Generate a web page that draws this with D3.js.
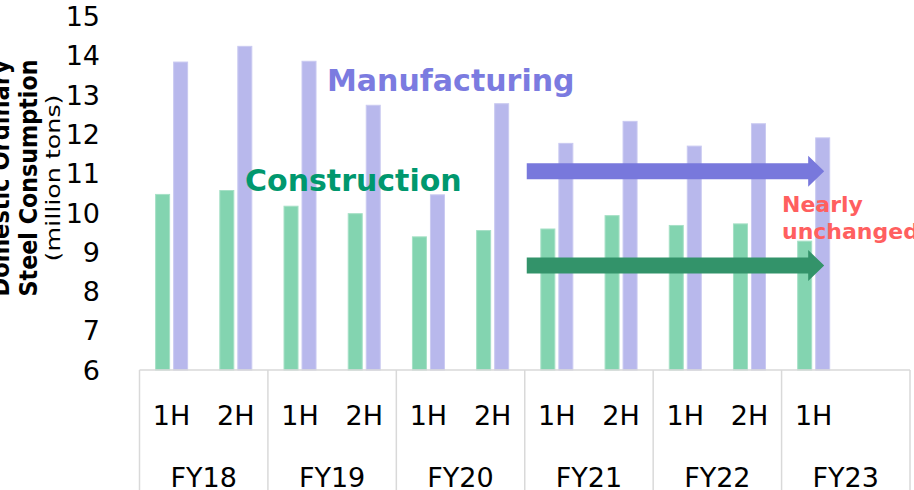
<!DOCTYPE html>
<html>
<head>
<meta charset="utf-8">
<script src="https://cdn.jsdelivr.net/npm/d3@7"></script>
<style>
  body { margin: 0; background: #fff; }
  svg { display: block; font-family: "DejaVu Sans", Verdana, sans-serif; }
</style>
</head>
<body>
<script>
// Data
const fiscalYears = ["FY18", "FY19", "FY20", "FY21", "FY22", "FY23"];
const halves = ["1H", "2H", "1H", "2H", "1H", "2H", "1H", "2H", "1H", "2H", "1H"];
const construction = [10.47, 10.57, 10.17, 9.98, 9.39, 9.55, 9.59, 9.93, 9.68, 9.72, 9.28];
const manufacturing = [13.84, 14.24, 13.86, 12.74, 10.46, 12.78, 11.77, 12.33, 11.70, 12.27, 11.91];
const yTicks = [6, 7, 8, 9, 10, 11, 12, 13, 14, 15];
// arrow levels (manufacturing, construction) and span in half-year slots
const arrowLevels = [11.06, 8.66];
const arrowFrom = 6, arrowTo = 10;

// Dimensions
const width = 914, height = 490;
const plotLeft = 139.5, plotRight = 910, plotTop = 16.5, plotBottom = 370;

const svg = d3.select("body").append("svg")
  .attr("width", width)
  .attr("height", height);

// Scales
const slots = d3.range(fiscalYears.length * 2);
const x = d3.scaleBand().domain(slots).range([plotLeft, plotRight]).padding(0);
const inner = d3.scaleBand()
  .domain(["Construction", "Manufacturing"])
  .range([0, x.bandwidth()])
  .paddingInner(0.222)
  .paddingOuter(0.894);
const y = d3.scaleLinear().domain([6, 15]).range([plotBottom, plotTop]);

// Y tick labels
svg.append("g")
  .selectAll("text")
  .data(yTicks).enter()
  .append("text")
  .attr("x", 100)
  .attr("y", d => y(d))
  .attr("dy", "0.36em")
  .attr("text-anchor", "end")
  .attr("font-size", 27)
  .attr("fill", "#000")
  .text(d => d);

// Y axis title (rotated)
const title = svg.append("g");
function titleLine(txt, bx, size, weight, len) {
  title.append("text")
    .attr("transform", "translate(" + bx + "," + 178 + ") rotate(-90)")
    .attr("text-anchor", "middle")
    .attr("font-size", size)
    .attr("font-weight", weight)
    .attr("textLength", len)
    .attr("lengthAdjust", "spacingAndGlyphs")
    .text(txt);
}
titleLine("Domestic Ordinary", 9, 24, "bold", 237);
titleLine("Steel Consumption", 37, 24, "bold", 237);
titleLine("(million tons)", 60, 20, "normal", 167);

// Bars
const series = [
  { name: "Construction", values: construction, color: "#83d4b0", stroke: "#a6e0c6" },
  { name: "Manufacturing", values: manufacturing, color: "#b8b8ec", stroke: "#cacaf1" }
];
series.forEach(s => {
  svg.append("g")
    .selectAll("rect")
    .data(s.values).enter()
    .append("rect")
    .attr("x", (d, i) => x(i) + inner(s.name))
    .attr("width", inner.bandwidth())
    .attr("y", d => y(d))
    .attr("height", d => y(6) - y(d))
    .attr("fill", s.color)
    .attr("stroke", s.stroke)
    .attr("stroke-width", 1);
});

// Category axis (two level)
const axis = svg.append("g");
axis.append("line")
  .attr("x1", plotLeft).attr("x2", plotRight)
  .attr("y1", plotBottom).attr("y2", plotBottom)
  .attr("stroke", "#d9d9d9").attr("stroke-width", 1.5);
axis.selectAll(".sep")
  .data(d3.range(fiscalYears.length + 1)).enter()
  .append("line")
  .attr("x1", i => i < fiscalYears.length ? x(i * 2) : plotRight)
  .attr("x2", i => i < fiscalYears.length ? x(i * 2) : plotRight)
  .attr("y1", plotBottom).attr("y2", height)
  .attr("stroke", "#d9d9d9").attr("stroke-width", 1.5);
axis.selectAll(".half")
  .data(halves).enter()
  .append("text")
  .attr("x", (d, i) => x(i) + x.bandwidth() / 2)
  .attr("y", 425)
  .attr("text-anchor", "middle")
  .attr("font-size", 27)
  .text(d => d);
axis.selectAll(".fy")
  .data(fiscalYears).enter()
  .append("text")
  .attr("x", (d, i) => x(i * 2) + x.bandwidth())
  .attr("y", 487)
  .attr("text-anchor", "middle")
  .attr("font-size", 27)
  .text(d => d);

// Arrows
const arrowColors = ["#7878dc", "#33936a"];
arrowLevels.forEach((v, k) => {
  const x0 = x(arrowFrom) + 2;
  const x1 = x(arrowTo) + inner("Manufacturing") + inner.bandwidth() / 2 + 1.5;
  const cy = y(v), sh = 8, hh = 15.5, hl = 16;
  const pts = [
    [x0, cy - sh], [x1 - hl, cy - sh], [x1 - hl, cy - hh], [x1, cy],
    [x1 - hl, cy + hh], [x1 - hl, cy + sh], [x0, cy + sh]
  ];
  svg.append("path")
    .attr("d", d3.line()(pts) + "Z")
    .attr("fill", arrowColors[k]);
});

// Annotations
svg.append("text")
  .attr("x", 327).attr("y", 91)
  .attr("font-size", 30).attr("font-weight", "bold")
  .attr("fill", "#7b7be0")
  .text("Manufacturing");
svg.append("text")
  .attr("x", 245).attr("y", 191)
  .attr("font-size", 30).attr("font-weight", "bold")
  .attr("fill", "#00986e")
  .text("Construction");
const note = svg.append("text")
  .attr("font-size", 22).attr("font-weight", "bold")
  .attr("fill", "#ff5f5f");
note.append("tspan").attr("x", 782).attr("y", 212).text("Nearly");
note.append("tspan").attr("x", 782).attr("y", 239).text("unchanged");
</script>
</body>
</html>
